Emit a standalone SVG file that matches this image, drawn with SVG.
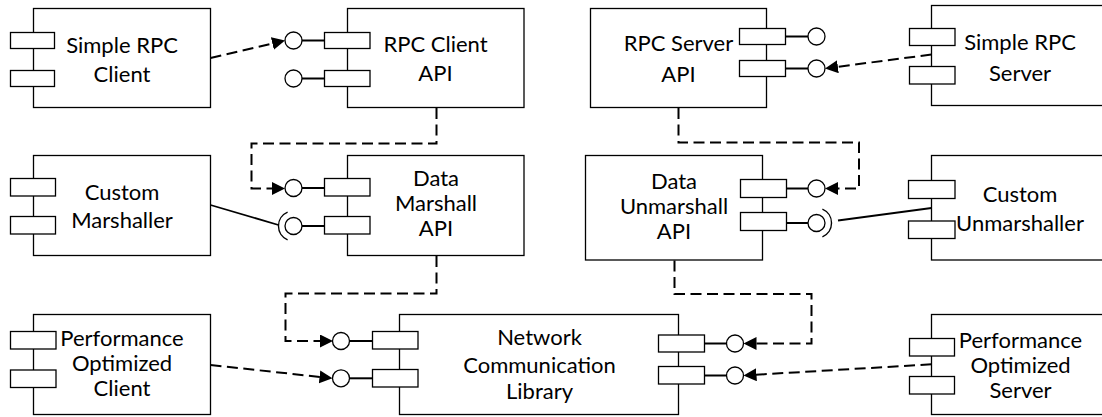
<svg xmlns="http://www.w3.org/2000/svg" width="1102" height="417" viewBox="0 0 1102 417">
<defs>
<style>
.box{fill:#fff;stroke:#000;stroke-width:1.3}
.tab{fill:#fff;stroke:#000;stroke-width:1.3}
.lol{fill:#fff;stroke:#000;stroke-width:1.3}
.stem{stroke:#000;stroke-width:2;fill:none}
.dash{stroke:#000;stroke-width:2;fill:none;stroke-dasharray:11 5.5}
.solid{stroke:#000;stroke-width:1.8;fill:none}
.sock{stroke:#000;stroke-width:1.4;fill:none}
text{font-family:Lato,"Liberation Sans",sans-serif;font-size:22px;fill:#000;text-anchor:middle}
</style>
<marker id="arr" markerUnits="userSpaceOnUse" markerWidth="14" markerHeight="14" refX="10" refY="6.5" orient="auto">
<path d="M0,0 L13,6.5 L0,13 z" fill="#000"/>
</marker>
</defs>
<rect width="1102" height="417" fill="#fff"/>

<g id="connectors">
<path class="dash" d="M210.5,58 L282.1,41.2" marker-end="url(#arr)"/>
<path class="dash" d="M931.5,54.5 L828,68.1" marker-end="url(#arr)"/>
<path class="dash" d="M436.5,108 V143.5 H251.5 V188.5 H282" marker-end="url(#arr)"/>
<path class="dash" d="M678.5,108 V142.5 H859 V188.5 H828" marker-end="url(#arr)"/>
<path class="dash" d="M436.5,256 V293.5 H285.5 V341 H330" marker-end="url(#arr)"/>
<path class="dash" d="M674.5,260.5 V294 H811.5 V343.5 H746.5" marker-end="url(#arr)"/>
<path class="dash" d="M210.5,365 L329.5,378" marker-end="url(#arr)"/>
<path class="dash" d="M931.5,364.3 L746.5,375.3" marker-end="url(#arr)"/>
<path class="solid" d="M210.5,205 L278.5,225"/>
<path class="sock" d="M287.6,212.2 A15,15 0 0 0 287.6,239.8"/>
<path class="solid" d="M838,220.5 L931.5,208"/>
<path class="sock" d="M822.4,209.2 A15,15 0 0 1 822.4,236.8"/>
</g>

<g id="simple-rpc-client">
<rect class="box" x="33.5" y="8.5" width="177" height="99"/>
<rect class="tab" x="10.5" y="32.5" width="44" height="16"/>
<rect class="tab" x="10.5" y="70.5" width="44" height="16"/>
<text x="122" y="52.5">Simple RPC</text>
<text x="122" y="81.5">Client</text>
</g>

<g id="rpc-client-api">
<rect class="box" x="347.5" y="8.5" width="176.5" height="99"/>
<line class="stem" x1="302" y1="40.5" x2="324.5" y2="40.5"/>
<line class="stem" x1="302" y1="78.5" x2="324.5" y2="78.5"/>
<circle class="lol" cx="293.5" cy="40.5" r="8.5"/>
<circle class="lol" cx="293.5" cy="78.5" r="8.5"/>
<rect class="tab" x="324.5" y="32.5" width="45.5" height="16"/>
<rect class="tab" x="324.5" y="70.5" width="45.5" height="16"/>
<text x="435.5" y="52">RPC Client</text>
<text x="435.5" y="81">API</text>
</g>

<g id="rpc-server-api">
<rect class="box" x="590.5" y="8.5" width="176" height="99"/>
<line class="stem" x1="785.5" y1="36.5" x2="808" y2="36.5"/>
<line class="stem" x1="785.5" y1="68.5" x2="808" y2="68.5"/>
<circle class="lol" cx="816.5" cy="36.5" r="8.5"/>
<circle class="lol" cx="816.5" cy="68.5" r="8.5"/>
<rect class="tab" x="739.5" y="28.5" width="46" height="16"/>
<rect class="tab" x="739.5" y="60.5" width="46" height="16"/>
<text x="678.5" y="50.5">RPC Server</text>
<text x="678.5" y="81.5">API</text>
</g>

<g id="simple-rpc-server">
<rect class="box" x="931.5" y="5.5" width="180" height="100"/>
<rect class="tab" x="909.5" y="28.5" width="45.5" height="17"/>
<rect class="tab" x="909.5" y="66.5" width="45.5" height="17.5"/>
<text x="1020" y="49.5">Simple RPC</text>
<text x="1020" y="81">Server</text>
</g>

<g id="custom-marshaller">
<rect class="box" x="33.5" y="155.5" width="177" height="100"/>
<rect class="tab" x="10.5" y="178.5" width="45" height="17.5"/>
<rect class="tab" x="10.5" y="216.5" width="45" height="17.5"/>
<text x="122" y="199.5">Custom</text>
<text x="122" y="227.5">Marshaller</text>
</g>

<g id="data-marshall-api">
<rect class="box" x="347.5" y="155.5" width="176.5" height="100"/>
<line class="stem" x1="302" y1="188" x2="324.5" y2="188"/>
<line class="stem" x1="302" y1="226" x2="324.5" y2="226"/>
<circle class="lol" cx="293.5" cy="188" r="8.5"/>
<circle class="lol" cx="293.5" cy="226" r="8.5"/>
<rect class="tab" x="324.5" y="178.5" width="45.5" height="17.5"/>
<rect class="tab" x="324.5" y="216.5" width="45.5" height="17.5"/>
<text x="436" y="186">Data</text>
<text x="436" y="211">Marshall</text>
<text x="436" y="236">API</text>
</g>

<g id="data-unmarshall-api">
<rect class="box" x="585.5" y="155.5" width="177" height="104.5"/>
<line class="stem" x1="786.5" y1="188.5" x2="808" y2="188.5"/>
<line class="stem" x1="786.5" y1="223" x2="808" y2="223"/>
<circle class="lol" cx="816.5" cy="188.5" r="8.5"/>
<circle class="lol" cx="816.5" cy="223" r="8.5"/>
<rect class="tab" x="740.5" y="179.5" width="46" height="18"/>
<rect class="tab" x="740.5" y="212.5" width="46" height="18"/>
<text x="674" y="189">Data</text>
<text x="674" y="214">Unmarshall</text>
<text x="674" y="239">API</text>
</g>

<g id="custom-unmarshaller">
<rect class="box" x="931.5" y="155.5" width="180" height="104.5"/>
<rect class="tab" x="908.5" y="180.5" width="46.5" height="18"/>
<rect class="tab" x="908.5" y="221" width="46.5" height="17.5"/>
<text x="1020" y="202">Custom</text>
<text x="1020" y="230.5">Unmarshaller</text>
</g>

<g id="performance-optimized-client">
<rect class="box" x="33.5" y="314.5" width="177" height="100"/>
<rect class="tab" x="10.5" y="331.5" width="45.5" height="17.5"/>
<rect class="tab" x="10.5" y="370" width="45.5" height="17.5"/>
<text x="122" y="345.5">Performance</text>
<text x="122" y="370.5">Optimized</text>
<text x="122" y="395.5">Client</text>
</g>

<g id="network-communication-library">
<rect class="box" x="399.5" y="314.5" width="279" height="100"/>
<line class="stem" x1="349.5" y1="341" x2="372.5" y2="341"/>
<line class="stem" x1="349.5" y1="378.3" x2="372.5" y2="378.3"/>
<circle class="lol" cx="341" cy="341" r="8.5"/>
<circle class="lol" cx="341" cy="378.3" r="8.5"/>
<rect class="tab" x="372.5" y="331.5" width="45.5" height="17.5"/>
<rect class="tab" x="372.5" y="369.5" width="45.5" height="17.5"/>
<line class="stem" x1="704.5" y1="343.5" x2="727" y2="343.5"/>
<line class="stem" x1="704.5" y1="375.5" x2="727" y2="375.5"/>
<circle class="lol" cx="735" cy="343.5" r="8.5"/>
<circle class="lol" cx="735" cy="375.5" r="8.5"/>
<rect class="tab" x="658.5" y="335" width="46" height="17"/>
<rect class="tab" x="658.5" y="366.5" width="46" height="17.5"/>
<text x="539.5" y="345">Network</text>
<text x="539.5" y="372.5">Communication</text>
<text x="539.5" y="398.5">Library</text>
</g>

<g id="performance-optimized-server">
<rect class="box" x="931.5" y="314.5" width="180" height="100"/>
<rect class="tab" x="909.5" y="338.5" width="45" height="17.5"/>
<rect class="tab" x="909.5" y="376.5" width="45" height="17.5"/>
<text x="1020.5" y="347.5">Performance</text>
<text x="1020.5" y="372.5">Optimized</text>
<text x="1020.5" y="397.5">Server</text>
</g>
</svg>
